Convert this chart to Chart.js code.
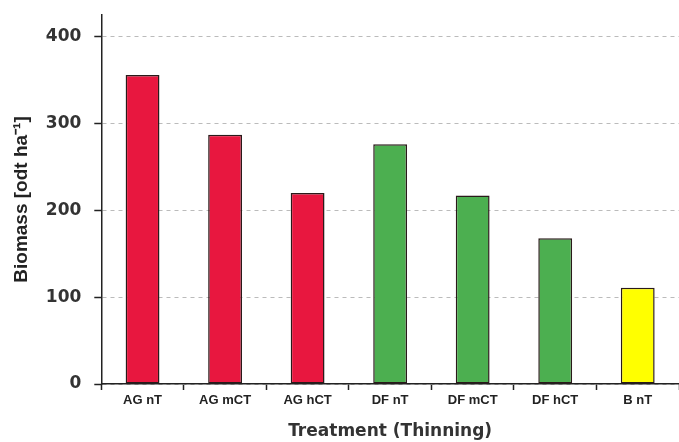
<!DOCTYPE html>
<html>
<head>
<meta charset="utf-8">
<script src="https://cdn.jsdelivr.net/npm/chart.js@4/dist/chart.umd.min.js"></script>
<style>
  html, body { margin: 0; padding: 0; background: #fff; }
  #wrap { width: 679px; height: 442px; }
</style>
</head>
<body>
<div id="wrap"><canvas id="biomassChart" width="679" height="442"></canvas></div>
<script>
// Biomass by thinning treatment
const treatments = ["AG nT", "AG mCT", "AG hCT", "DF nT", "DF mCT", "DF hCT", "B nT"];
const biomass = [356, 287, 220, 276, 217, 168, 111];
const barColors = ["#e8173f", "#e8173f", "#e8173f", "#4caf50", "#4caf50", "#4caf50", "#ffff00"];
const yTicks = [0, 100, 200, 300, 400];

const ctx = document.getElementById("biomassChart").getContext("2d");
new Chart(ctx, {
  type: "bar",
  data: {
    labels: treatments,
    datasets: [
      {
        data: biomass,
        backgroundColor: barColors,
        borderColor: "#2a1a1a",
        borderWidth: 1.5,
        borderSkipped: false,
        categoryPercentage: 0.41,
        barPercentage: 1,
      },
    ],
  },
  options: {
    responsive: false,
    animation: false,
    layout: { padding: { left: 10, right: 0, top: 15, bottom: 0 } },
    plugins: { legend: { display: false }, tooltip: { enabled: false } },
    scales: {
      x: {
        grid: { drawOnChartArea: false, drawTicks: true, tickLength: 6, tickColor: "#222", tickWidth: 1.5 },
        border: { color: "#222", width: 1.5 },
        ticks: { color: "#222", font: { family: "Liberation Sans", size: 13, weight: "bold" }, padding: 3 },
        title: {
          display: true,
          text: "Treatment (Thinning)",
          color: "#333",
          font: { family: "DejaVu Sans", size: 17, weight: "bold" },
          padding: { top: 10, bottom: 0 },
        },
      },
      y: {
        min: 0,
        max: 425,
        afterBuildTicks: (scale) => {
          scale.ticks = yTicks.map((v) => ({ value: v }));
        },
        afterFit: (scale) => {
          // top tick (400) sits below the axis end, so no label overhang needed
          scale.paddingTop = 0;
        },
        grid: { color: "#bbb", lineWidth: 1, tickLength: 7, tickColor: "#222", tickWidth: 1.5 },
        border: { color: "#222", width: 1.5, dash: [4, 4] },
        ticks: { color: "#333", font: { family: "DejaVu Sans", size: 17, weight: "bold" }, padding: 13 },
        title: {
          display: true,
          text: "Biomass [odt ha⁻¹]",
          color: "#222",
          font: { family: "Liberation Sans", size: 19, weight: "bold" },
          padding: { top: 0, bottom: 0 },
        },
      },
    },
  },
});
</script>
</body>
</html>
